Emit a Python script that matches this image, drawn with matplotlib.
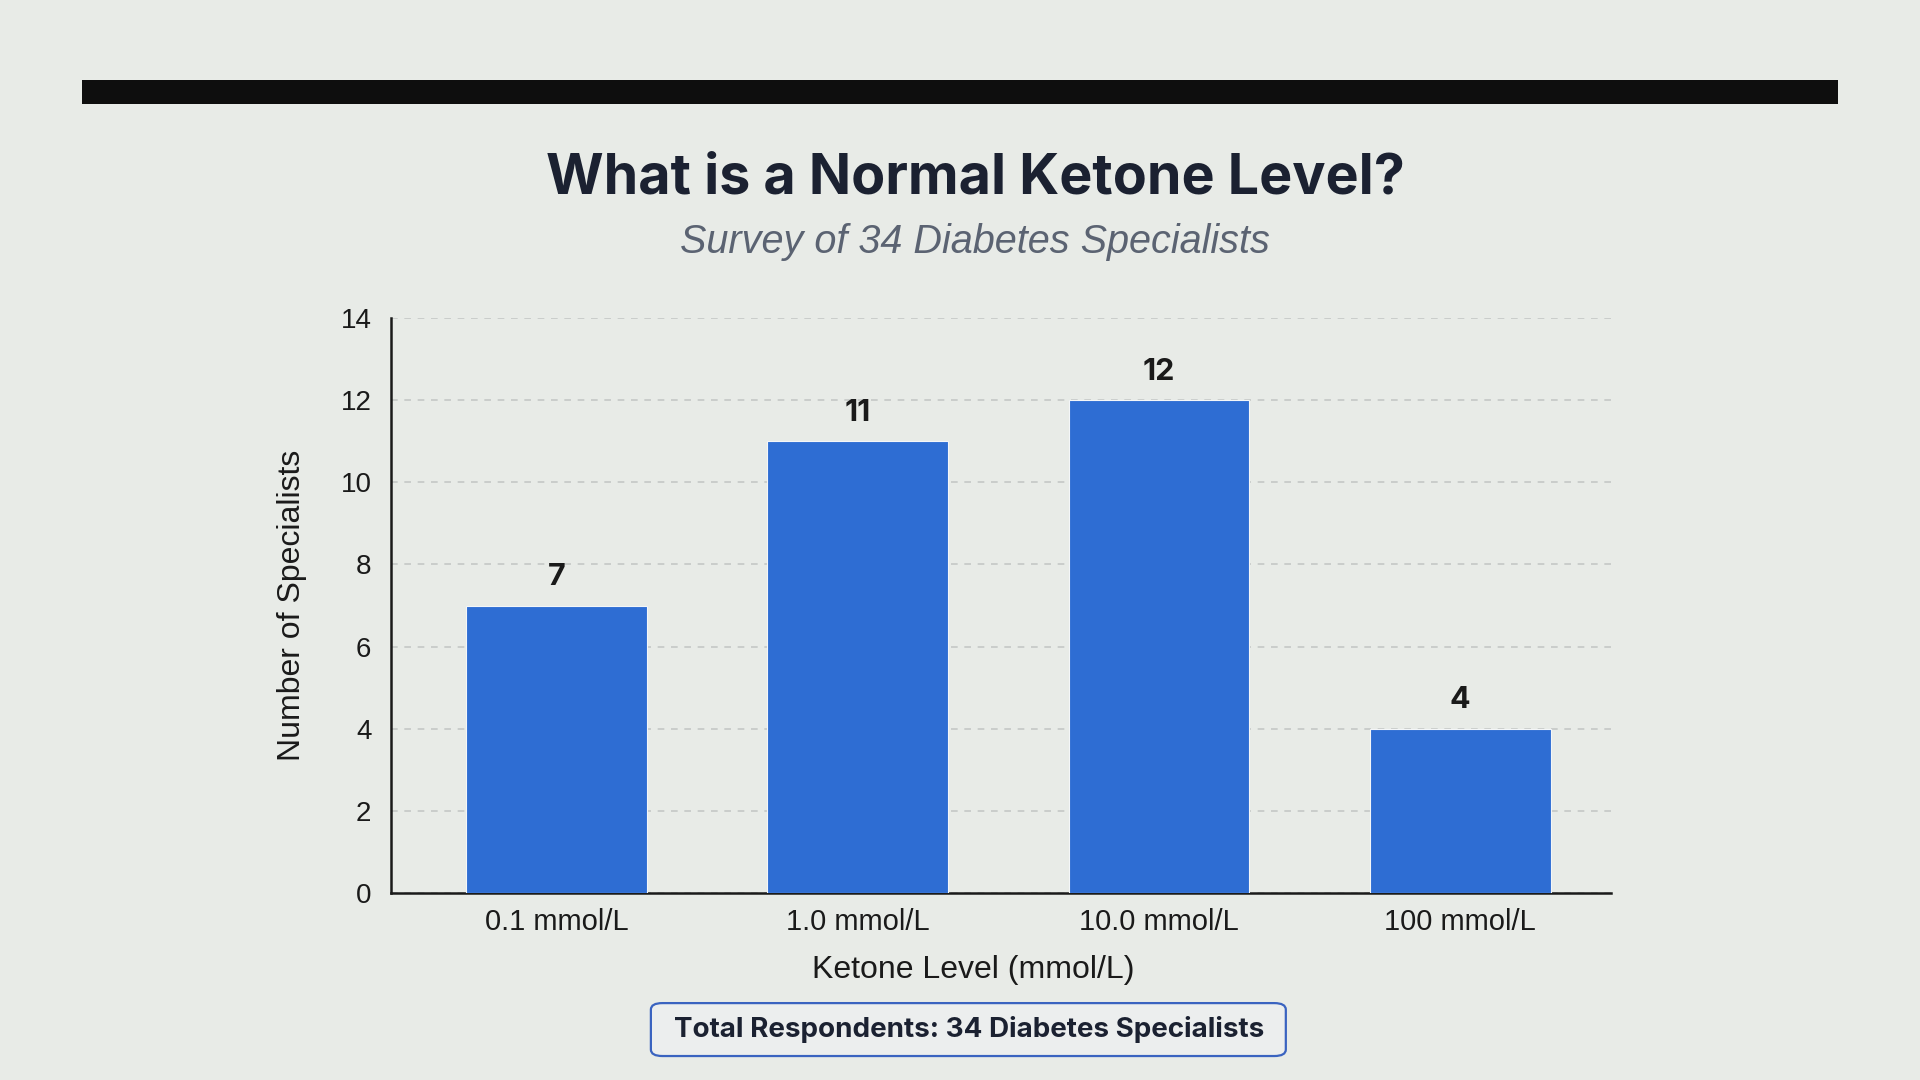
import matplotlib.pyplot as plt
from matplotlib.patches import Rectangle, FancyBboxPatch

# Survey data
levels = ['0.1 mmol/L', '1.0 mmol/L', '10.0 mmol/L', '100 mmol/L']
counts = [7, 11, 12, 4]
y_ticks = [0, 2, 4, 6, 8, 10, 12, 14]

bg = '#e8ebe7'
bar_color = '#2e6dd3'
dark = '#1b2131'
sans = ['Liberation Sans', 'DejaVu Sans']

plt.rcParams['font.family'] = ['Inter', 'DejaVu Sans']

fig = plt.figure(figsize=(19.2, 10.8), dpi=100, facecolor=bg)

# Black strip across the top
fig.patches.append(Rectangle((0.0427, 0.9037), 0.9145, 0.0223, transform=fig.transFigure,
                             facecolor='#0e0e0e', edgecolor='none'))

# Title and subtitle
fig.text(0.508, 0.835, 'What is a Normal Ketone Level?', ha='center', va='center',
         fontsize=40, fontweight='bold', color=dark)
fig.text(0.508, 0.776, 'Survey of 34 Diabetes Specialists', ha='center', va='center',
         fontsize=28.5, style='italic', color='#5b6372', family=sans)

ax = fig.add_axes([0.2036, 0.1731, 0.6354, 0.5325])
ax.set_facecolor(bg)

x = list(range(len(levels)))
ax.bar(x, counts, width=0.6, color=bar_color, edgecolor='#f4f6f8', linewidth=0.8, zorder=3)

# Value labels above bars
for xi, c in zip(x, counts):
    ax.text(xi, c + 0.35, str(c), ha='center', va='bottom', fontsize=22,
            fontweight='bold', color='#1a1a1a')

ax.set_xlim(-0.55, 3.5)
ax.set_ylim(0, 14)
ax.set_yticks(y_ticks)
ax.set_xticks(x)
ax.set_xticklabels(levels)
ax.tick_params(axis='both', length=0, colors='#1a1a1a')
ax.tick_params(axis='y', labelsize=20, pad=14)
ax.tick_params(axis='x', labelsize=21, pad=11)
for lab in ax.get_xticklabels() + ax.get_yticklabels():
    lab.set_family(sans)

ax.grid(axis='y', linestyle=(0, (4, 4)), color='#c4c8c6', linewidth=1.2, zorder=0)
ax.set_axisbelow(True)

for side in ['top', 'right']:
    ax.spines[side].set_visible(False)
for side in ['left', 'bottom']:
    ax.spines[side].set_color('#1a1a1a')
    ax.spines[side].set_linewidth(1.8)

ax.set_ylabel('Number of Specialists', fontsize=23, color='#1a1a1a', family=sans)
ax.set_xlabel('Ketone Level (mmol/L)', fontsize=23, color='#1a1a1a', family=sans)
ax.yaxis.set_label_coords(-0.069, 0.5)
ax.xaxis.set_label_coords(0.477, -0.108)

# Footer box
fig.patches.append(FancyBboxPatch((0.339, 0.0222), 0.3307, 0.049, transform=fig.transFigure,
                                  boxstyle='round,pad=0,rounding_size=0.006',
                                  facecolor='#eceeee', edgecolor='#3a63c0', linewidth=1.6))
fig.text(0.5045, 0.0467, 'Total Respondents: 34 Diabetes Specialists', ha='center', va='center',
         fontsize=20, fontweight='bold', color=dark)

plt.savefig('out.png', dpi=100, facecolor=bg)
